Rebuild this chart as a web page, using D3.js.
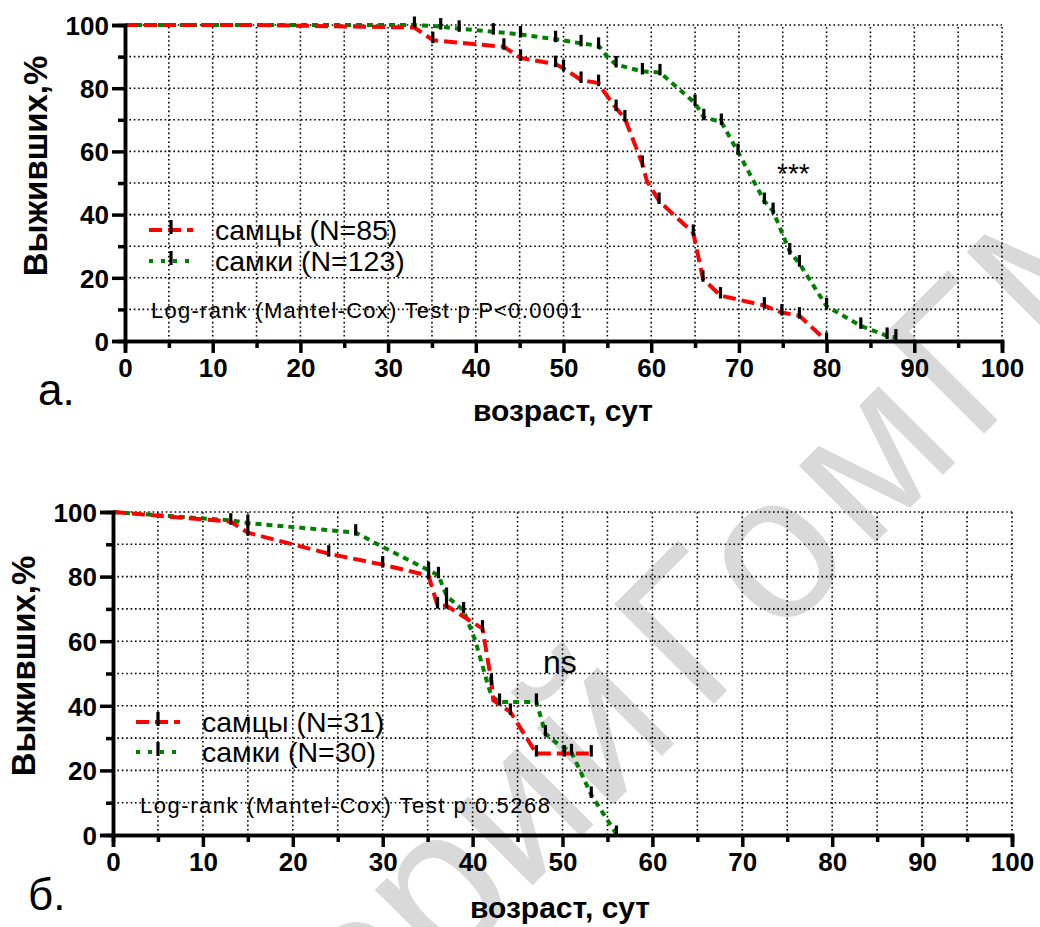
<!DOCTYPE html>
<html><head><meta charset="utf-8">
<script src="https://cdn.jsdelivr.net/npm/d3@7"></script>
<style>
html,body{margin:0;padding:0;background:#fff;}
svg{display:block;font-family:Arial,"Liberation Sans",sans-serif;}
</style></head>
<body>
<svg id="c" width="1040" height="927"></svg>
<script>
// ---------- DATA ----------
const xTicksMajor = [0,10,20,30,40,50,60,70,80,90,100];
const xTicksMinor = [5,15,25,35,45,55,65,75,85,95];
const yTicksMajor = [0,20,40,60,80,100];
const yTicksMinor = [10,30,50,70,90];
const xGrid = [5,10,15,20,25,30,35,40,45,50,55,60,65,70,75,80,85,90,95,100];
const yGrid = [10,20,30,40,50,60,70,80,90,100];

const yTitle = "Выживших,%";
const xTitle = "возраст, сут";

// panel a
const aMaleLabel = "самцы (N=85)";
const aFemaleLabel = "самки (N=123)";
const aTest = "Log-rank (Mantel-Cox) Test p P<0.0001";
const aSig = "***";
const aMale = [[0,100],[15,100],[33,99.2],[35.1,95.2],[43.2,93.1],[45.1,89.6],[49.1,87.6],[50,86.3],[52,82.6],[54,81.6],[54.5,79.4],[56,73.7],[57,70.4],[59,56],[59.5,50.7],[60.9,44.3],[64.8,34.2],[65.9,19.7],[67.9,14.4],[72.9,11.2],[74.9,9],[76.9,8],[80,0]];
const aMaleCens = [[35.1,95.2],[43.2,93.1],[45.1,89.6],[49.1,87.6],[50,86.3],[52,82.6],[54,81.6],[56,73.7],[57,70.4],[59,56],[60.9,44.3],[64.8,34.2],[65.9,19.7],[67.9,14.4],[72.9,11.2],[74.9,9],[76.9,8],[80,0]];
const aFemale = [[0,100],[33,100],[36,99.5],[38.1,98.8],[42,97.9],[45.1,97],[49.1,95.5],[52,94.2],[54,93.4],[55.1,89.6],[56,87.5],[59,85.3],[61,85],[65,75.3],[66,70.8],[68,69.3],[69.9,59.8],[72.9,44.3],[73.9,41.1],[75.8,28.3],[76.9,24.5],[80,11],[83.9,4.8],[86.9,1.6],[87.9,1.1]];
const aFemaleCens = [[33,100],[36,99.5],[38.1,98.8],[42,97.9],[45.1,97],[49.1,95.5],[52,94.2],[54,93.4],[56,87.5],[59,85.3],[61,85],[65,75.3],[66,70.8],[68,69.3],[69.9,59.8],[72.9,44.3],[73.9,41.1],[75.8,28.3],[76.9,24.5],[80,11],[83.9,4.8],[86.9,1.6],[87.9,1.1]];

// panel б
const bMaleLabel = "самцы (N=31)";
const bFemaleLabel = "самки (N=30)";
const bTest = "Log-rank (Mantel-Cox) Test p 0.5268";
const bSig = "ns";
const bMale = [[0,100],[13.1,97],[15,93.6],[24,87.1],[30,83.7],[35.1,80.3],[36.1,71],[37.1,71],[41.1,63.9],[42.1,47.4],[42.3,41.7],[44.2,38.1],[47.1,25.2],[53.2,25.2]];
const bMaleCens = [[13.1,97],[15,93.6],[24,87.1],[30,83.7],[35.1,80.3],[36.1,71],[37.1,71],[41.1,63.9],[42.1,47.4],[44.2,38.1],[47.1,25.2],[50.2,25.2],[53.2,25.2]];
const bFemale = [[0,100],[13.1,97.4],[15,96.6],[27,93.6],[30,89.2],[35.1,82],[36.2,80.4],[37.1,74],[39,69.5],[40.3,60.2],[41.4,49.4],[42.1,43],[43,41.2],[47.1,41.2],[48.1,31.4],[49.2,28.8],[51,25.6],[53.2,12.4],[56,0.3]];
const bFemaleCens = [[15,96.6],[27,93.6],[35.1,82],[36.2,80.4],[37.1,74],[39,69.5],[43,41.2],[47.1,41.2],[48.1,31.4],[51,25.6],[53.2,12.4],[56,0.3]];

const watermarkA = "Репозиторий";
const watermarkB = "ГомГМУ";

// ---------- DRAW ----------
const svg = d3.select("#c");
svg.append("rect").attr("width",1040).attr("height",927).attr("fill","#fff");

// watermark
const wm = svg.append("g").attr("transform","translate(702,716) rotate(-45)")
  .attr("fill","#d9d9d9").style("font-family","Arial, 'Liberation Sans', sans-serif").style("font-size","205px");
wm.append("text").attr("x",-25).attr("text-anchor","end").text(watermarkA);
wm.append("text").attr("x",0).attr("text-anchor","start").style("letter-spacing","10px").text(watermarkB);

const RED = "#ff0000", GREEN = "#008000";

function panel(cfg){
  const x = d3.scaleLinear().domain([0,100]).range([cfg.x0,cfg.x1]);
  const y = d3.scaleLinear().domain([0,100]).range([cfg.y0,cfg.y1]);
  const g = svg.append("g");

  // grid
  g.append("g").selectAll("line").data(xGrid).join("line")
    .attr("x1",d=>x(d)).attr("x2",d=>x(d)).attr("y1",y(0)).attr("y2",y(100))
    .attr("stroke","#000").attr("stroke-width",1.6).attr("stroke-dasharray","1.6,2.8");
  g.append("g").selectAll("line").data(yGrid).join("line")
    .attr("y1",d=>y(d)).attr("y2",d=>y(d)).attr("x1",x(0)).attr("x2",x(100))
    .attr("stroke","#000").attr("stroke-width",1.6).attr("stroke-dasharray","1.6,2.8");

  // test text
  g.append("text").attr("x",cfg.testX).attr("y",cfg.testY)
    .attr("textLength",cfg.testLen).attr("lengthAdjust","spacing")
    .style("font-size","22px").attr("fill","#000").text(cfg.test);

  // curves
  const line = d3.line().x(d=>x(d[0])).y(d=>y(d[1]));
  g.append("path").datum(cfg.female).attr("d",line).attr("fill","none")
    .attr("stroke",GREEN).attr("stroke-width",4).attr("stroke-dasharray","6,5");
  g.append("path").datum(cfg.male).attr("d",line).attr("fill","none")
    .attr("stroke",RED).attr("stroke-width",4).attr("stroke-dasharray","13,6");

  // censor marks
  const cens = cfg.maleCens.concat(cfg.femaleCens);
  g.append("g").selectAll("line").data(cens).join("line")
    .attr("x1",d=>x(d[0])).attr("x2",d=>x(d[0]))
    .attr("y1",d=>y(d[1])-8.5).attr("y2",d=>y(d[1])+3)
    .attr("stroke","#000").attr("stroke-width",3.2);

  // axes
  const ax = g.append("g").attr("transform",`translate(0,${y(0)})`)
    .call(d3.axisBottom(x).tickValues(xTicksMajor).tickSize(12).tickPadding(6).tickFormat(d3.format("d")));
  const axm = g.append("g").attr("transform",`translate(0,${y(0)})`)
    .call(d3.axisBottom(x).tickValues(xTicksMinor).tickSize(7).tickFormat(""));
  const ay = g.append("g").attr("transform",`translate(${x(0)},0)`)
    .call(d3.axisLeft(y).tickValues(yTicksMajor).tickSize(13).tickPadding(3).tickFormat(d3.format("d")));
  const aym = g.append("g").attr("transform",`translate(${x(0)},0)`)
    .call(d3.axisLeft(y).tickValues(yTicksMinor).tickSize(7).tickFormat(""));
  [ax,axm,ay,aym].forEach(a=>{
    a.select(".domain").attr("stroke","#000").attr("stroke-width",3.5);
    a.selectAll(".tick line").attr("stroke","#000").attr("stroke-width",3.5);
    a.selectAll(".tick text").attr("fill","#000").style("font-size","26px").style("font-weight","bold")
      .style("font-family","Arial, 'Liberation Sans', sans-serif");
  });
  ay.selectAll(".tick text").attr("dy","0.36em");

  // legend
  const lg = g.append("g");
  const items = [
    {label:cfg.maleLabel, color:RED, dash:"13,6", y:cfg.legY1},
    {label:cfg.femaleLabel, color:GREEN, dash:"4,8", y:cfg.legY2}
  ];
  items.forEach(it=>{
    lg.append("line").attr("x1",cfg.legX).attr("x2",cfg.legX+44).attr("y1",it.y).attr("y2",it.y)
      .attr("stroke",it.color).attr("stroke-width",4).attr("stroke-dasharray",it.dash);
    lg.append("line").attr("x1",cfg.legX+22).attr("x2",cfg.legX+22).attr("y1",it.y-10).attr("y2",it.y+4)
      .attr("stroke","#000").attr("stroke-width",3.2);
    lg.append("text").attr("x",cfg.legX+66).attr("y",it.y+10).style("font-size","28.5px").text(it.label);
  });

  // sig label
  g.append("text").attr("x",cfg.sigX).attr("y",cfg.sigY).style("font-size",cfg.sigSize+"px").text(cfg.sig);

  // titles
  g.append("text").attr("transform",`translate(${cfg.yTitleX},${cfg.yTitleY}) rotate(-90)`)
    .attr("text-anchor","middle").style("font-size","33px").style("font-weight","bold").text(yTitle);
  g.append("text").attr("x",cfg.xTitleX).attr("y",cfg.xTitleY).attr("text-anchor","middle")
    .style("font-size","30px").style("font-weight","bold").text(xTitle);
  g.append("text").attr("x",cfg.panelX).attr("y",cfg.panelY).style("font-size","44px").text(cfg.panel);
}

panel({x0:125,x1:1002,y0:341,y1:25,
  male:aMale,maleCens:aMaleCens,female:aFemale,femaleCens:aFemaleCens,
  maleLabel:aMaleLabel,femaleLabel:aFemaleLabel,legX:149,legY1:230,legY2:261,
  test:aTest,testX:151,testY:318,testLen:431,
  sig:aSig,sigX:777,sigY:183,sigSize:28,
  yTitleX:47,yTitleY:166,xTitleX:563,xTitleY:421,panel:"а.",panelX:38,panelY:405});

panel({x0:113,x1:1012,y0:835,y1:512,
  male:bMale,maleCens:bMaleCens,female:bFemale,femaleCens:bFemaleCens,
  maleLabel:bMaleLabel,femaleLabel:bFemaleLabel,legX:136,legY1:722,legY2:752,
  test:bTest,testX:140,testY:813,testLen:410,
  sig:bSig,sigX:543,sigY:673,sigSize:32,
  yTitleX:35,yTitleY:666,xTitleX:560,xTitleY:918,panel:"б.",panelX:28,panelY:910});
</script>
</body></html>
